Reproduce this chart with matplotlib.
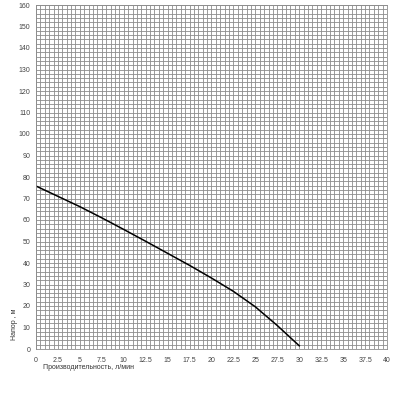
import matplotlib
matplotlib.use("Agg")
import matplotlib.pyplot as plt
import numpy as np

# данные кривой (расход, л/мин -> напор, м)
flow = [0, 2.5, 5, 7.5, 10, 12.5, 15, 17.5, 20, 22.5, 25, 27.5, 30]
head = [75.8, 71.0, 66.2, 61.0, 55.6, 50.1, 44.5, 38.9, 33.0, 26.8, 19.6, 10.9, 1.5]

x_ticks = [0, 2.5, 5, 7.5, 10, 12.5, 15, 17.5, 20, 22.5, 25, 27.5, 30, 32.5, 35, 37.5, 40]
x_labels = ["0", "2.5", "5", "7.5", "10", "12.5", "15", "17.5", "20", "22.5",
            "25", "27.5", "30", "32.5", "35", "37.5", "40"]
y_ticks = list(range(0, 161, 10))

plt.rcParams['font.family'] = ['Liberation Sans', 'DejaVu Sans']

fig = plt.figure(figsize=(4, 4), dpi=100)
ax = fig.add_axes([0.09, 0.1275, 0.8775, 0.86])

ax.set_xlim(0, 40)
ax.set_ylim(0, 160)

# мелкая сетка: 0.5 по X, 2 по Y
ax.set_xticks(np.arange(0, 40.01, 0.5), minor=True)
ax.set_yticks(np.arange(0, 160.01, 2), minor=True)
ax.grid(which='both', color='#8c8c8c', linewidth=0.6)
ax.set_axisbelow(True)

ax.set_xticks(x_ticks)
ax.set_xticklabels(x_labels)
ax.set_yticks(y_ticks)
ax.tick_params(which='both', length=0, labelsize=5, colors='#444444')
ax.tick_params(axis='x', pad=6)
ax.tick_params(axis='y', pad=4)

for s in ax.spines.values():
    s.set_color('#8c8c8c')
    s.set_linewidth(0.6)

ax.plot(flow, head, color='black', linewidth=1.1)

fig.text(0.108, 0.077, "Производительность, л/мин", fontsize=5, color='#333333')
fig.text(0.027, 0.155, "Напор , м", fontsize=5, color='#333333', rotation=90)

fig.savefig("out.png", dpi=100)
